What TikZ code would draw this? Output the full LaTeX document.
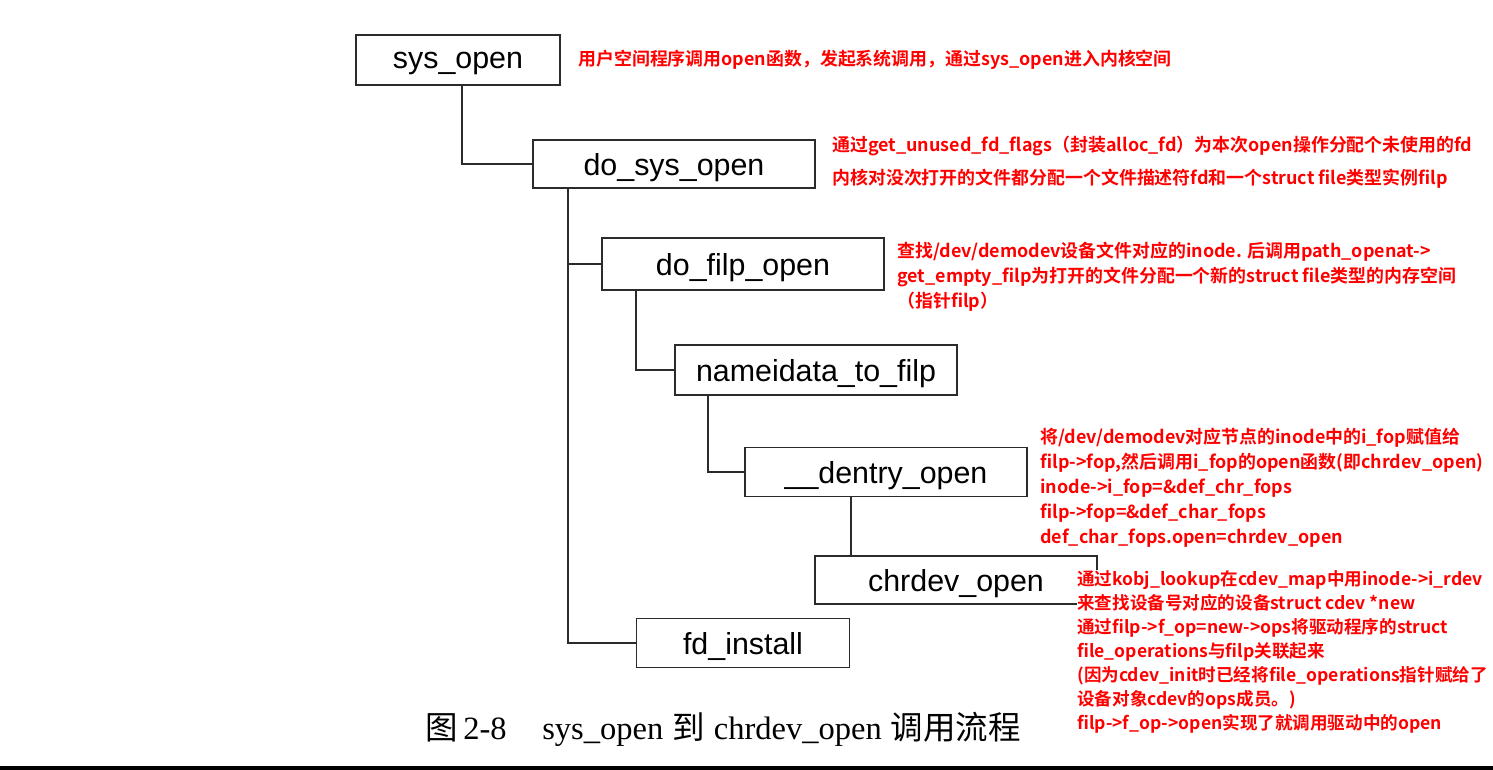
\documentclass[tikz,border=0pt]{standalone}
\usepackage{fontspec}
\setmainfont{Liberation Sans}
\newfontfamily\serifrm{Liberation Serif}
\newfontfamily\cjk{Noto Sans CJK SC}
\newfontfamily\cjkbold{Noto Sans CJK SC Bold}
\usetikzlibrary{calc}
\definecolor{notered}{HTML}{FF0000}
\definecolor{linegray}{HTML}{2B2B2B}

\begin{document}
\begin{tikzpicture}[
  x=0.02cm, y=-0.02cm,
  fnbox/.style={rectangle, draw=linegray, line width=1.1pt, fill=white,
                minimum width=5.64cm, minimum height=1cm, inner sep=0pt,
                text depth=0pt, font=\fontsize{17.3}{20}\selectfont},
  link/.style={draw=linegray, line width=1.4pt},
  note/.style={anchor=north west, align=left, inner sep=0pt, text=notered,
               font=\cjkbold\fontsize{10.2}{13.7}\selectfont},
]
\useasboundingbox (0,0) rectangle (1493,770);

% Call boxes
\node[fnbox, minimum width=4.08cm] (sysopen) at (458,60) {sys\_open};
\node[fnbox, minimum height=0.96cm] (dosysopen) at (674,164) {do\_sys\_open};
\node[fnbox, minimum height=1.04cm] (dofilpopen) at (743,264) {do\_filp\_open};
\node[fnbox] (nameidata) at (816,370) {nameidata\_to\_filp};
\node[fnbox, minimum height=0.98cm] (dentryopen) at (886,472) {\_\_dentry\_open};
\node[fnbox, minimum height=0.96cm] (chrdevopen) at (956,580) {chrdev\_open};
\node[fnbox, minimum width=4.26cm, minimum height=0.98cm] (fdinstall) at (743,643) {fd\_install};

% Edges
\draw[link] ($(sysopen.south)+(4,0)$) |- (dosysopen.west);
\draw[link] ($(dosysopen.south west)+(36,0)$) coordinate (trunk) |- (fdinstall.west);
\draw[link] (trunk |- dofilpopen.west) -- (dofilpopen.west);
\draw[link] ($(dofilpopen.south west)+(35,0)$) |- (nameidata.west);
\draw[link] ($(nameidata.south west)+(34,0)$) |- (dentryopen.west);
\draw[link] ($(dentryopen.south west)+(107,0)$) coordinate (dn) -- (dn |- chrdevopen.north);

% Notes
\node[note] (n1) at (578,50) {用户空间程序调用open函数，发起系统调用，通过sys\_open进入内核空间};
\node[note] (n2) at (832,136) {通过get\_unused\_fd\_flags（封装alloc\_fd）为本次open操作分配个未使用的fd\\[5pt]
  内核对没次打开的文件都分配一个文件描述符fd和一个struct file类型实例filp};
\node[note, font=\cjkbold\fontsize{10.2}{14.2}\selectfont] (n3) at (897,242) {查找/dev/demodev设备文件对应的inode. 后调用path\_openat->\\
  get\_empty\_filp为打开的文件分配一个新的struct file类型的内存空间\\
  （指针filp）};
\node[note, font=\cjkbold\fontsize{10.2}{14.2}\selectfont] (n4) at (1040,428) {将/dev/demodev对应节点的inode中的i\_fop赋值给\\
  filp->fop,然后调用i\_fop的open函数(即chrdev\_open)\\
  inode->i\_fop=\&def\_chr\_fops\\
  filp->fop=\&def\_char\_fops\\
  def\_char\_fops.open=chrdev\_open};
\node[note, fill=white, font=\cjkbold\fontsize{10}{13.7}\selectfont] (n5) at (1077,570) {通过kobj\_lookup在cdev\_map中用inode->i\_rdev\\
  来查找设备号对应的设备struct cdev *new\\
  通过filp->f\_op=new->ops将驱动程序的struct\\
  file\_operations与filp关联起来\\
  (因为cdev\_init时已经将file\_operations指针赋给了\\
  设备对象cdev的ops成员。)\\
  filp->f\_op->open实现了就调用驱动中的open};

% Caption
\node[anchor=west, inner sep=0pt, font=\fontsize{18.5}{22}\selectfont] (caption) at (425,729)
  {{\cjk 图}\,{\serifrm 2-8\hspace{1.1em}sys\_open} {\cjk 到} {\serifrm chrdev\_open} {\cjk 调用流程}};

% Bottom rule
\fill[black] (0,766) rectangle (1493,770);
\end{tikzpicture}
\end{document}
